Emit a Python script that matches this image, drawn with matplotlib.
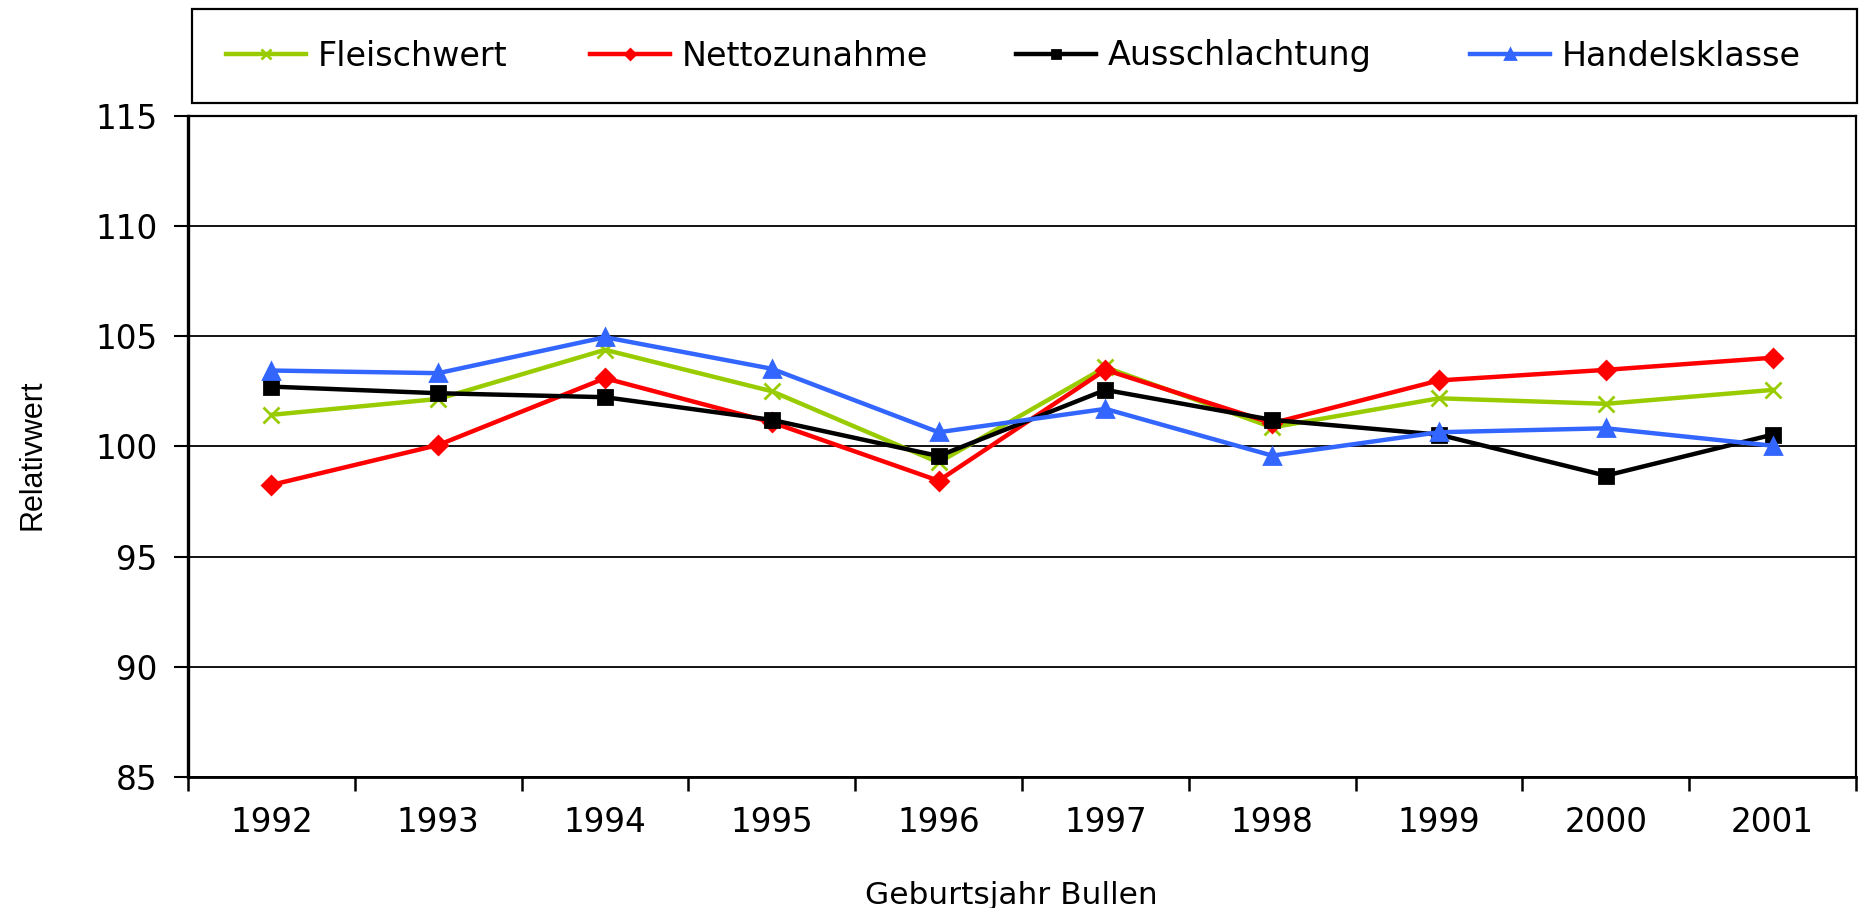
import matplotlib.pyplot as plt
from matplotlib.patches import Rectangle

# data
years = ['1992', '1993', '1994', '1995', '1996', '1997', '1998', '1999', '2000', '2001']
fleischwert = [101.43, 102.15, 104.38, 102.5, 99.27, 103.59, 100.86, 102.18, 101.93, 102.56]
nettozunahme = [98.25, 100.06, 103.09, 101.09, 98.44, 103.47, 101.05, 102.99, 103.47, 104.02]
ausschlachtung = [102.71, 102.41, 102.23, 101.2, 99.56, 102.56, 101.2, 100.53, 98.67, 100.53]
handelsklasse = [103.44, 103.32, 104.95, 103.52, 100.64, 101.7, 99.58, 100.64, 100.82, 100.03]
y_ticks = [85, 90, 95, 100, 105, 110, 115]

W, H = 1863, 908
fig = plt.figure(figsize=(W / 100, H / 100), dpi=100)
ax = fig.add_axes([188 / W, 1 - 777 / H, (1856 - 188) / W, (777 - 115.7) / H])

x = list(range(len(years)))
series = [
    ('Fleischwert', fleischwert, '#99CC00', 'x', 12),
    ('Nettozunahme', nettozunahme, '#FF0000', 'D', 9),
    ('Ausschlachtung', ausschlachtung, '#000000', 's', 10),
    ('Handelsklasse', handelsklasse, '#3366FF', '^', 12),
]
handles = []
for i, (name, vals, col, mk, ms) in enumerate(series):
    h, = ax.plot(x, vals, color=col, lw=3.2, marker=mk, ms=ms, mew=2,
                 mec=col, mfc=col, label=name, zorder=3 + i, clip_on=False)
    handles.append(h)

ax.set_xlim(-0.5, len(years) - 0.5)
ax.set_ylim(85, 115)
ax.set_yticks(y_ticks)
ax.set_xticks([i - 0.5 for i in range(len(years) + 1)])
ax.set_xticklabels([])
ax.set_xticks(x, minor=True)
ax.set_xticklabels(years, minor=True)
ax.tick_params(axis='x', which='major', length=10, width=1.8, direction='out')
ax.tick_params(axis='x', which='minor', length=0, pad=21, labelsize=23.5)
ax.tick_params(axis='y', length=10, width=1.5, direction='out', pad=12, labelsize=23.5)

ax.yaxis.grid(True, color='black', lw=1.3)
ax.set_axisbelow(True)
ax.spines['left'].set_linewidth(2.4)
ax.spines['bottom'].set_linewidth(2)
ax.spines['top'].set_linewidth(1.6)
ax.spines['right'].set_linewidth(1.6)

fig.text(33 / W, 1 - 455 / H, 'Relativwert', rotation=90, ha='center', va='center',
         fontsize=22, family='Liberation Sans')
fig.text(1011 / W, 1 - 895 / H, 'Geburtsjahr Bullen', ha='center', va='center', fontsize=22.5)

# legend box at the top
fig.add_artist(Rectangle((192 / W, 1 - 103 / H), (1857 - 192) / W, 94 / H, fill=False,
                         lw=1.6, edgecolor='black', transform=fig.transFigure))
leg_x = [226, 590, 1016, 1470]
for h, lx in zip(handles, leg_x):
    fig.legend([h], [h.get_label()], loc='center left', bbox_to_anchor=(lx / W, 1 - 56 / H),
               frameon=False, borderpad=0, borderaxespad=0, handlelength=2.4,
               handletextpad=0.35, fontsize=24, markerscale=0.6)

fig.savefig('out.png', dpi=100)
